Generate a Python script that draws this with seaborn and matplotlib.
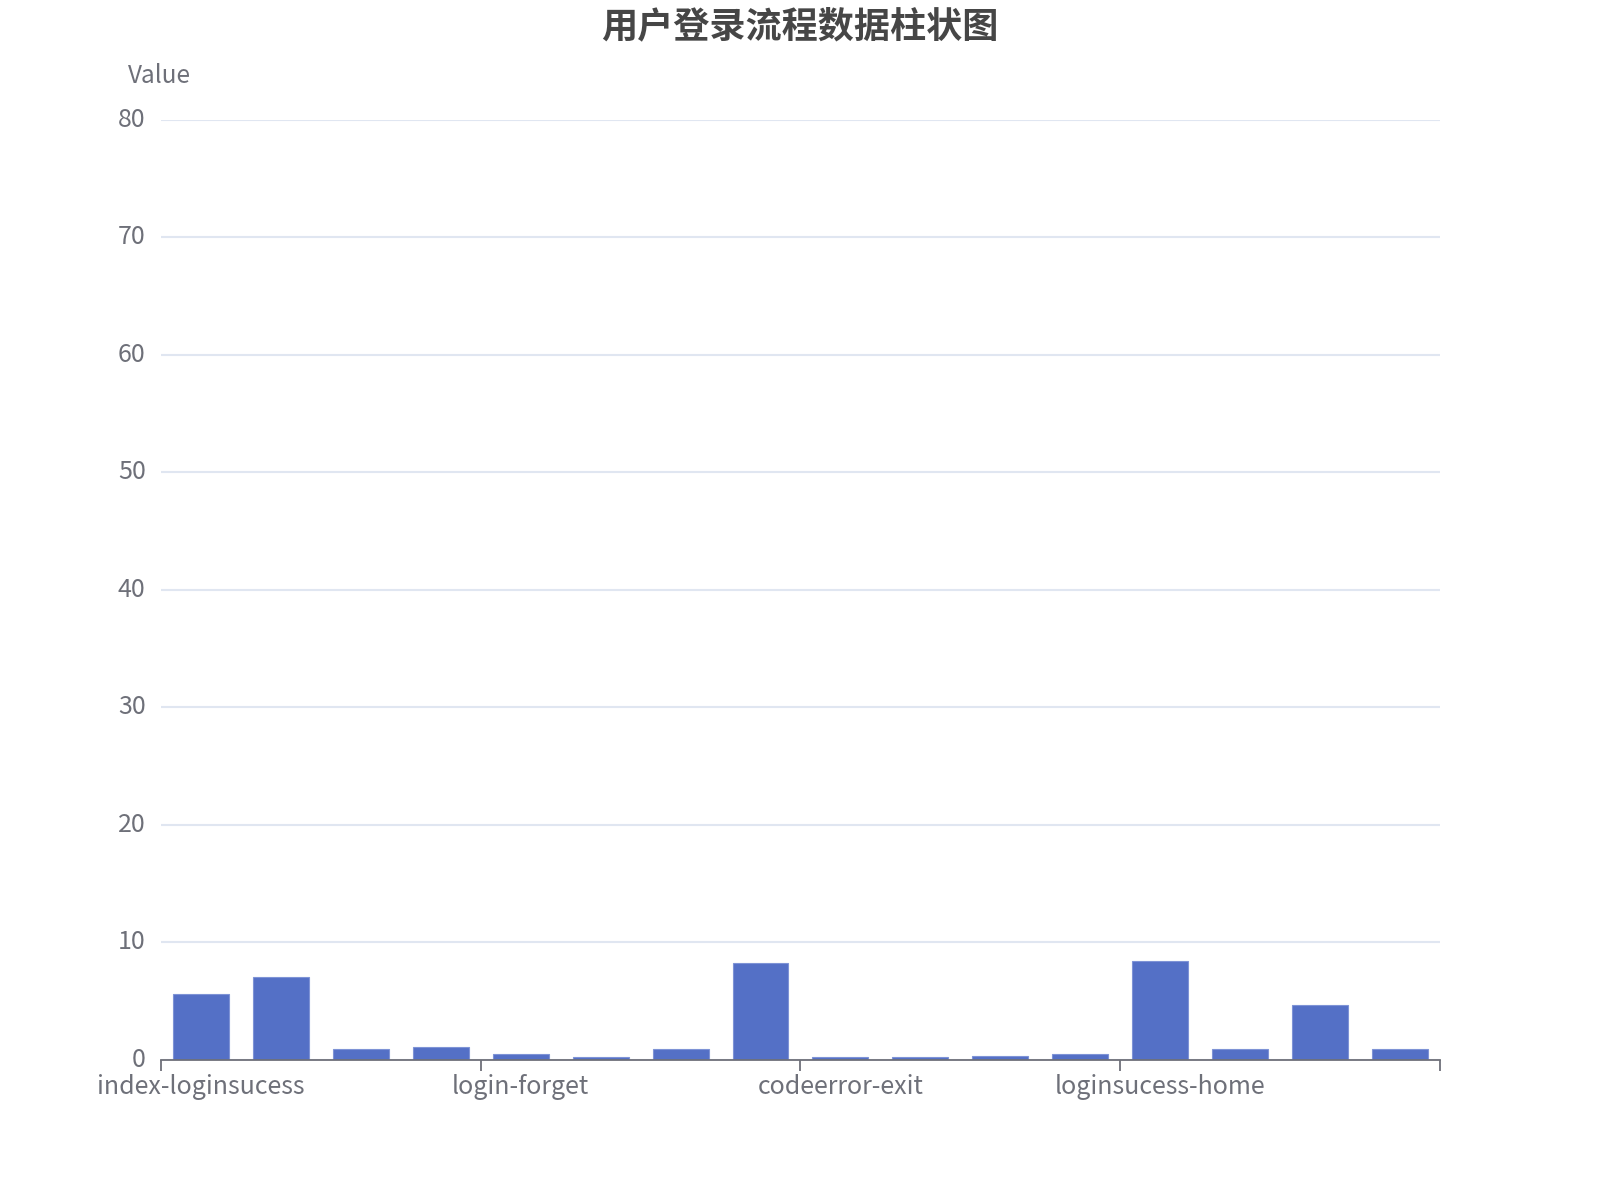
import matplotlib
matplotlib.use("Agg")
import matplotlib.pyplot as plt
import seaborn as sns
import pandas as pd
import numpy as np

categories = [
    "index-loginsucess", "index-login", "index-exit", "login-loginsucess",
    "login-forget", "login-codeerror", "login-exit", "codeerror-login",
    "codeerror-exit", "forget-login", "forget-exit", "register-login",
    "loginsucess-home", "loginsucess-exit", "home-detail", "home-exit",
]
values = [5.64, 7.06, 0.96, 1.1, 0.51, 0.28, 0.96, 8.25,
          0.28, 0.28, 0.37, 0.51, 8.45, 0.96, 4.7, 0.96]
shown_labels = ["index-loginsucess", "login-forget", "codeerror-exit", "loginsucess-home"]
y_ticks = [0, 10, 20, 30, 40, 50, 60, 70, 80]
title = "用户登录流程数据柱状图"

sns.set_theme(style="white")
plt.rcParams['font.family'] = ['Noto Sans CJK SC', 'DejaVu Sans']

df = pd.DataFrame({"category": categories, "value": values})

fig = plt.figure(figsize=(16, 12), dpi=100)
ax = fig.add_axes([0.1006, 0.1167, 0.7994, 0.7833])

sns.barplot(data=df, x="category", y="value", color="#5470C6", width=0.7,
            saturation=1, ax=ax, edgecolor="#7E93D6", linewidth=0.8)

ax.set_ylim(0, 80)
ax.set_xlim(-0.5, len(categories) - 0.5)
ax.set_yticks(y_ticks)
ax.set_yticklabels([str(t) for t in y_ticks], fontsize=18, color="#6E7079")
ax.yaxis.grid(True, color="#E0E6F1", linewidth=1.5)
ax.set_axisbelow(True)
ax.tick_params(axis="y", length=0, pad=11)
for lbl in ax.get_yticklabels():
    lbl.set_verticalalignment("center")

# boundaries ticks (major) every 4 categories, labels (minor) at category centers
n = len(categories)
bounds = np.arange(-0.5, n, 4)
ax.set_xticks(bounds)
ax.set_xticklabels([""] * len(bounds))
label_pos = [categories.index(c) for c in shown_labels]
ax.set_xticks(label_pos, minor=True)
ax.set_xticklabels(shown_labels, minor=True, fontsize=18, color="#6E7079")
ax.tick_params(axis="x", which="major", length=8, width=1.3, color="#6E7079", direction="out", bottom=True)
ax.tick_params(axis="x", which="minor", length=0, pad=10)

for s in ["top", "right", "left"]:
    ax.spines[s].set_visible(False)
ax.spines["bottom"].set_color("#6E7079")
ax.spines["bottom"].set_linewidth(1.3)

ax.set_xlabel("")
ax.set_ylabel("")
fig.text(0.0994, 1 - 76 / 1200, "Value", fontsize=17.5, color="#6E7079", ha="center", va="center")
fig.text(0.5, 1 - 27 / 1200, title, fontsize=26, fontweight="bold", color="#464646", ha="center", va="center")

fig.savefig("out.png", dpi=100, facecolor="white")
